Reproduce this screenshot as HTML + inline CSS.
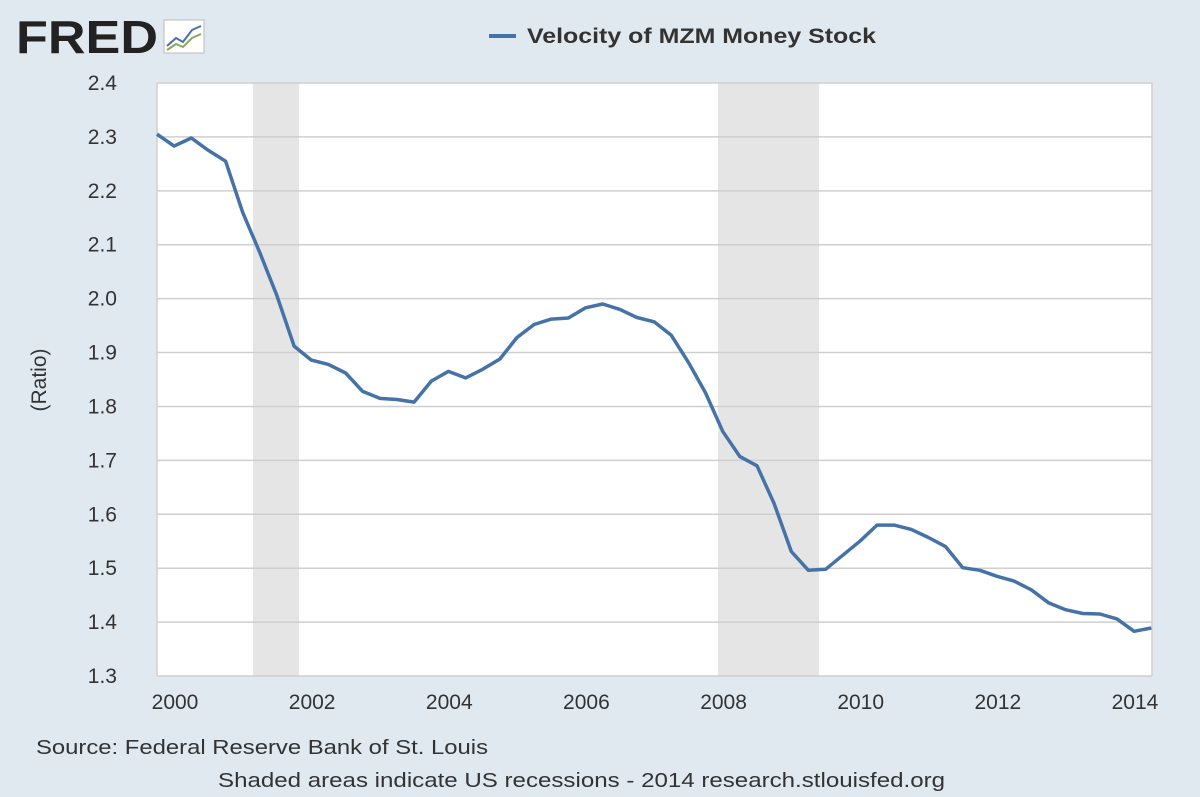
<!DOCTYPE html>
<html><head><meta charset="utf-8"><style>
html,body{margin:0;padding:0;background:#e1e9f0;}
svg{display:block;font-family:"Liberation Sans",sans-serif;}
</style></head><body>
<svg id="s" width="1200" height="797" xmlns="http://www.w3.org/2000/svg">
<rect width="1200" height="797" fill="#e1e9f0"/>
<rect x="157" y="83" width="995" height="593" fill="#fff"/>
<rect x="253" y="83" width="46" height="593" fill="#e5e5e5"/>
<rect x="718" y="83" width="101" height="593" fill="#e5e5e5"/>
<g id="grid" stroke="#cfcfcf" stroke-width="1.5"></g>
<line x1="157" y1="83" x2="157" y2="676" stroke="#cfcfcf" stroke-width="1.5"/>
<line x1="1152" y1="83" x2="1152" y2="676" stroke="#cfcfcf" stroke-width="1.5"/>
<g id="yl" font-size="21" fill="#333" text-anchor="end"></g>
<g id="xl" font-size="21" fill="#333" text-anchor="middle"></g>
<text x="46" y="380" font-size="21" fill="#333" text-anchor="middle" transform="rotate(-90 46 380)">(Ratio)</text>
<polyline id="line" fill="none" stroke="#4572a7" stroke-width="3.5" stroke-linejoin="round"/>
<text x="16" y="53" font-size="46" font-weight="bold" fill="#222" textLength="142" lengthAdjust="spacingAndGlyphs">FRED</text>
<g transform="translate(164,20)">
<rect x="0" y="0" width="40" height="33" fill="#fff" stroke="#bbb"/>
<polyline points="3,26 12,18 19,22 28,10 37,6" fill="none" stroke="#4572a7" stroke-width="2"/>
<polyline points="3,30 12,24 19,27 28,18 37,14" fill="none" stroke="#8aa85a" stroke-width="2"/>
</g>
<line x1="489" y1="36" x2="516" y2="36" stroke="#4572a7" stroke-width="4"/>
<text x="527" y="43" font-size="21" font-weight="bold" fill="#333" textLength="349" lengthAdjust="spacingAndGlyphs">Velocity of MZM Money Stock</text>
<text x="36" y="754" font-size="20" fill="#333" textLength="452" lengthAdjust="spacingAndGlyphs">Source: Federal Reserve Bank of St. Louis</text>
<text x="218" y="787" font-size="20" fill="#333" textLength="727" lengthAdjust="spacingAndGlyphs">Shaded areas indicate US recessions - 2014 research.stlouisfed.org</text>
</svg>
<script>
var ns="http://www.w3.org/2000/svg";
function Y(v){return 83+(2.4-v)*539.1;}
var g=document.getElementById('grid'),yl=document.getElementById('yl'),xl=document.getElementById('xl');
for(var i=0;i<=11;i++){var v=1.3+i*0.1,y=Y(v);
var l=document.createElementNS(ns,'line');l.setAttribute('x1',157);l.setAttribute('x2',1152);l.setAttribute('y1',y);l.setAttribute('y2',y);g.appendChild(l);
var t=document.createElementNS(ns,'text');t.setAttribute('x',117);t.setAttribute('y',y+7);t.textContent=v.toFixed(1);yl.appendChild(t);}
for(var yr=2000;yr<=2014;yr+=2){var x=175+(yr-2000)*68.57;
var t=document.createElementNS(ns,'text');t.setAttribute('x',x);t.setAttribute('y',709);t.textContent=yr;xl.appendChild(t);}
var d=[2.305,2.283,2.298,2.275,2.255,2.160,2.085,2.005,1.912,1.886,1.878,1.862,1.828,1.815,1.813,1.808,1.847,1.865,1.853,1.869,1.888,1.928,1.952,1.962,1.964,1.983,1.990,1.980,1.965,1.957,1.932,1.882,1.825,1.754,1.707,1.690,1.620,1.531,1.496,1.498,1.524,1.550,1.580,1.580,1.572,1.557,1.540,1.501,1.496,1.485,1.476,1.460,1.436,1.423,1.416,1.415,1.406,1.383,1.389];
var p=[];for(var i=0;i<d.length;i++){p.push((157+i*17.1428).toFixed(1)+','+Y(d[i]).toFixed(1));}
document.getElementById('line').setAttribute('points',p.join(' '));
</script>
</body></html>
